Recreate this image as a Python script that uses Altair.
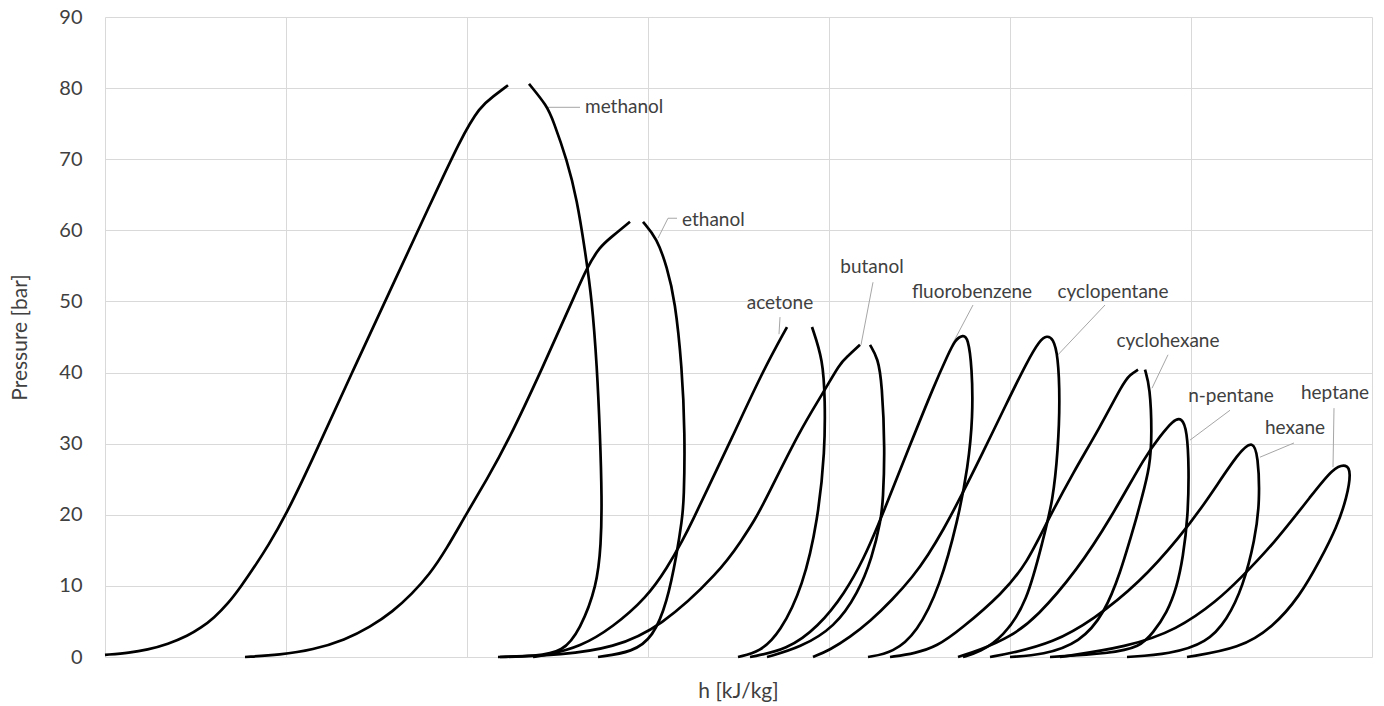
import altair as alt
import pandas as pd

# Saturation domes in the pressure-enthalpy plane.
# h is in chart enthalpy units (the axis carries no numbers), p in bar.

methanol_liq_h = [0, 25, 42, 63, 83, 96, 109, 123, 136, 150, 163, 181, 205, 247, 290, 323, 356, 375, 388, 403]
methanol_liq_p = [0.3, 0.6, 1.0, 1.8, 3.0, 4.1, 5.5, 7.5, 9.9, 12.8, 15.6, 20, 27, 40, 53, 63, 73, 77.4, 78.8, 80.4]
methanol_vap_h = [424, 442, 448, 462, 472, 480, 487, 492, 495, 497, 496, 492, 475, 458, 430, 395]
methanol_vap_p = [80.6, 77.5, 75.5, 69.9, 64.3, 57.2, 50.2, 40.8, 31.5, 22, 15.8, 10, 3.8, 0.7, 0.12, 0]

ethanol_liq_h = [140, 175, 208, 240, 265, 288, 307, 324, 342, 360, 382, 403, 437, 469, 482, 495, 505, 525]
ethanol_liq_p = [0, 0.3, 1.0, 2.4, 4.2, 6.4, 8.9, 11.5, 15.3, 19.8, 25, 30.3, 40.5, 50.6, 54.8, 57.7, 58.9, 61.2]
ethanol_vap_h = [538, 552, 562, 570, 577, 580, 579, 577, 572, 562, 548, 528, 493]
ethanol_vap_p = [61.2, 58.9, 54.8, 50.2, 40.8, 31.5, 22, 19.3, 14.6, 7.6, 2.8, 0.7, 0]

acetone_liq_h = [428, 442, 475, 508, 542, 562, 578, 588, 602, 626, 657, 682]
acetone_liq_p = [0, 0.3, 1.4, 4.2, 8.4, 12.5, 16.5, 19.3, 23.5, 30.5, 40, 46.4]
acetone_vap_h = [707, 718, 720, 720, 713, 698, 675, 655, 633]
acetone_vap_p = [46.4, 41.8, 36.1, 29.1, 19.3, 9.9, 3.4, 0.7, 0]

butanol_liq_h = [393, 458, 508, 555, 615, 637, 650, 662, 695, 718, 735, 742, 755]
butanol_liq_p = [0, 0.3, 1.3, 4.1, 12, 16.5, 19.3, 22.5, 31.9, 37.1, 41.3, 42.2, 43.9]
butanol_vap_h = [765, 773, 777, 780, 778, 776, 767, 753, 730, 695, 662]
butanol_vap_p = [43.9, 42, 38.5, 29.1, 22, 19.3, 13.9, 9, 4.2, 1.3, 0]

fluorobenzene_liq_h = [645, 682, 713, 740, 759, 773, 783, 803, 830, 843, 850, 858]
fluorobenzene_liq_p = [0, 1, 4.2, 9, 13.9, 18.5, 22, 29.1, 38.5, 42.5, 44.6, 45.3]
fluorobenzene_vap_h = [863, 867, 868, 863, 853, 835, 812, 788, 763]
fluorobenzene_vap_p = [44.9, 40.8, 33.8, 26.7, 19.3, 9.9, 3.4, 0.6, 0]

cyclopentane_liq_h = [708, 725, 745, 765, 787, 808, 823, 838, 855, 877, 901, 922, 935, 942]
cyclopentane_liq_p = [0, 1.0, 2.8, 5.0, 8.0, 11.3, 14.3, 17.8, 22.3, 28.5, 35.5, 41.5, 44.6, 45.2]
cyclopentane_vap_h = [948, 953, 955, 953, 948, 938, 922, 898, 875, 858]
cyclopentane_vap_p = [44.8, 42.5, 36.1, 29.1, 22, 16.5, 7.6, 2.8, 0.7, 0]

cyclohexane_liq_h = [785, 810, 832, 855, 898, 922, 943, 968, 995, 1018, 1025, 1033]
cyclohexane_liq_p = [0, 0.5, 1.5, 3.8, 9, 13.2, 19.3, 25.9, 32.3, 38.5, 39.7, 40.4]
cyclohexane_vap_h = [1040, 1045, 1047, 1045, 1036, 1031, 1025, 1016, 1000, 975, 938, 905]
cyclohexane_vap_p = [40.4, 38, 31.5, 26.7, 22, 19.3, 16.5, 12.2, 6.2, 2, 0.3, 0]

npentane_liq_h = [853, 875, 905, 932, 972, 1005, 1042, 1055, 1068, 1077]
npentane_liq_p = [0, 1, 2.8, 5.6, 12.2, 19.3, 28.7, 31, 33.3, 33.7]
npentane_vap_h = [1082, 1084, 1083, 1078, 1072, 1062, 1048, 1035, 1005, 945]
npentane_vap_p = [31.8, 26.7, 19.7, 14, 9.9, 6.2, 3.4, 1.4, 0.5, 0]

hexane_liq_h = [885, 905, 948, 988, 1035, 1075, 1102, 1135, 1148]
hexane_liq_p = [0, 0.5, 2, 5.2, 10.5, 16.9, 22, 29.1, 30.4]
hexane_vap_h = [1153, 1155, 1150, 1138, 1122, 1102, 1065, 1022]
hexane_vap_p = [28.4, 22, 16.5, 9.9, 5.2, 2, 0.4, 0]

heptane_liq_h = [955, 1022, 1072, 1113, 1135, 1168, 1208, 1228, 1242]
heptane_liq_p = [0, 1.4, 3.8, 8.0, 11.0, 15.8, 23, 26.6, 27.2]
heptane_vap_h = [1246, 1242, 1232, 1215, 1195, 1168, 1135, 1082]
heptane_vap_p = [25.9, 22.5, 18.3, 13.6, 8.6, 4.2, 1.2, 0]

fluids = {
    "methanol": (methanol_liq_h, methanol_liq_p, methanol_vap_h, methanol_vap_p),
    "ethanol": (ethanol_liq_h, ethanol_liq_p, ethanol_vap_h, ethanol_vap_p),
    "acetone": (acetone_liq_h, acetone_liq_p, acetone_vap_h, acetone_vap_p),
    "butanol": (butanol_liq_h, butanol_liq_p, butanol_vap_h, butanol_vap_p),
    "fluorobenzene": (fluorobenzene_liq_h, fluorobenzene_liq_p, fluorobenzene_vap_h, fluorobenzene_vap_p),
    "cyclopentane": (cyclopentane_liq_h, cyclopentane_liq_p, cyclopentane_vap_h, cyclopentane_vap_p),
    "cyclohexane": (cyclohexane_liq_h, cyclohexane_liq_p, cyclohexane_vap_h, cyclohexane_vap_p),
    "n-pentane": (npentane_liq_h, npentane_liq_p, npentane_vap_h, npentane_vap_p),
    "hexane": (hexane_liq_h, hexane_liq_p, hexane_vap_h, hexane_vap_p),
    "heptane": (heptane_liq_h, heptane_liq_p, heptane_vap_h, heptane_vap_p),
}
# domes whose curve is open at the critical point
open_top = ["methanol", "ethanol", "acetone", "butanol", "cyclohexane"]

# label text, its anchor, and the leader line drawn to the curve
label_names = ["methanol", "ethanol", "acetone", "butanol", "fluorobenzene",
               "cyclopentane", "cyclohexane", "n-pentane", "hexane", "heptane"]
label_h = [480, 577, 675, 767, 867, 1008, 1063, 1126, 1190, 1230]
label_p = [77.3, 61.5, 49.8, 54.8, 51.3, 51.3, 44.4, 36.7, 32.2, 37.1]
label_align = ["left", "left", "center", "center", "center",
               "center", "center", "center", "center", "center"]
leader_h = [[475, 443], [572, 563, 553], [675, 674], [768, 756], [868, 847],
            [1000, 953], [1063, 1047], [1125, 1085], [1189, 1155], [1229, 1228]]
leader_p = [[77.3, 77.3], [61.7, 61.7, 58.9], [47.8, 45.4], [52.7, 43.9], [49.5, 43.9],
            [49.5, 42.5], [42.5, 37.8], [34.7, 30.5], [30.1, 28.1], [35.0, 26.7]]

grid_h = [0, 181, 362, 543, 724, 905, 1086, 1267]

rows = []
for name, (lh, lp, vh, vp) in fluids.items():
    if name in open_top:
        parts = [(name + "-liq", lh, lp), (name + "-vap", vh, vp)]
    else:
        parts = [(name, lh + vh, lp + vp)]
    for seg, hs, ps in parts:
        for i, (h, p) in enumerate(zip(hs, ps)):
            rows.append({"seg": seg, "i": i, "h": h, "p": p})
curves = pd.DataFrame(rows)

leader_rows = []
for name, hs, ps in zip(label_names, leader_h, leader_p):
    for i, (h, p) in enumerate(zip(hs, ps)):
        leader_rows.append({"name": name, "i": i, "h": h, "p": p})
leaders = pd.DataFrame(leader_rows)

labels = pd.DataFrame({"name": label_names, "h": label_h, "p": label_p, "align": label_align})

FONT = "Lato"
TEXT = "#404040"

x_scale = alt.Scale(domain=[0, 1267], nice=False, zero=False)
y_scale = alt.Scale(domain=[0, 90], nice=False)

x_axis = alt.Axis(values=grid_h, labels=False, ticks=False, tickSize=0, domain=False,
                  grid=True, gridColor="#d9d9d9", gridWidth=1,
                  title="h [kJ/kg]", titleFont=FONT, titleFontSize=21,
                  titleFontWeight="normal", titleColor=TEXT,
                  titleX=633, titleY=34, titleAlign="center", titleBaseline="middle")
y_axis = alt.Axis(values=list(range(0, 91, 10)), ticks=False, tickSize=0, domain=False,
                  grid=True, gridColor="#d9d9d9", gridWidth=1,
                  labelFont=FONT, labelFontSize=20, labelColor=TEXT, labelPadding=23,
                  title="Pressure [bar]", titleFont=FONT, titleFontSize=21,
                  titleFontWeight="normal", titleColor=TEXT, titleAngle=270,
                  titleX=-85, titleY=320, titleAlign="center", titleBaseline="middle")

# B-spline smoothing keeps the end points and rounds the traced vertices
domes = alt.Chart(curves).mark_line(
    color="black", strokeWidth=2.7, interpolate="basis"
).encode(
    x=alt.X("h:Q", scale=x_scale, axis=x_axis),
    y=alt.Y("p:Q", scale=y_scale, axis=y_axis),
    detail="seg:N",
    order="i:Q",
)

leader_lines = alt.Chart(leaders).mark_line(color="#a6a6a6", strokeWidth=1).encode(
    x=alt.X("h:Q", scale=x_scale),
    y=alt.Y("p:Q", scale=y_scale),
    detail="name:N",
    order="i:Q",
)

text_left = alt.Chart(labels[labels["align"] == "left"]).mark_text(
    align="left", baseline="middle", font=FONT, fontSize=19, color=TEXT
).encode(x=alt.X("h:Q", scale=x_scale), y=alt.Y("p:Q", scale=y_scale), text="name:N")

text_center = alt.Chart(labels[labels["align"] == "center"]).mark_text(
    align="center", baseline="middle", font=FONT, fontSize=19, color=TEXT
).encode(x=alt.X("h:Q", scale=x_scale), y=alt.Y("p:Q", scale=y_scale), text="name:N")

chart = alt.layer(leader_lines, domes, text_left, text_center).properties(
    width=1267,
    height=640,
    padding={"left": 105, "top": 17, "right": 12, "bottom": 49},
    autosize=alt.AutoSizeParams(type="none"),
    background="white",
).configure_view(stroke=None)

chart.save("out.html", embed_options={"renderer": "svg", "actions": False})
